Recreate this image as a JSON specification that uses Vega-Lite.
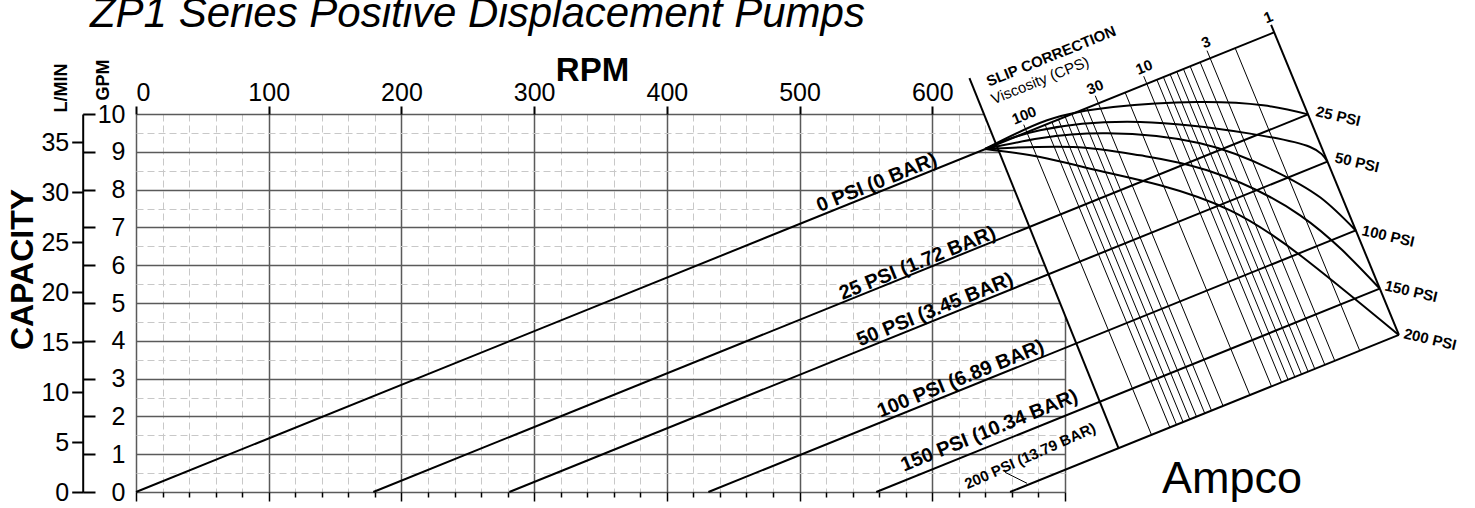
{
  "$schema": "https://vega.github.io/schema/vega-lite/v6.json",
  "autosize": {"type": "none"},
  "width": 929,
  "height": 378,
  "padding": {"left": 136, "top": 114, "right": 410, "bottom": 16},
  "background": "white",
  "config": {"view": {"stroke": null}, "font": "Liberation Sans"},
  "datasets": {
    "heading": [{"label": "ZP1 Series Positive Displacement Pumps", "rpm": -34.7, "gpm": 12.3}],
    "mask": [
      {"rpm": 638.9, "lo": 10, "hi": 10.06},
      {"rpm": 703, "lo": 4.43, "hi": 10.06}
    ],
    "thick": [
      {"id": "0 PSI", "rpm": 0, "gpm": 0, "rpm2": 857.6, "gpm2": 12.16},
      {"id": "25 PSI", "rpm": 178.8, "gpm": 0, "rpm2": 883.1, "gpm2": 9.99},
      {"id": "50 PSI", "rpm": 281.3, "gpm": 0, "rpm2": 897.7, "gpm2": 8.74},
      {"id": "100 PSI", "rpm": 431.3, "gpm": 0, "rpm2": 919.1, "gpm2": 6.92},
      {"id": "150 PSI", "rpm": 557.8, "gpm": 0, "rpm2": 937.1, "gpm2": 5.38},
      {"id": "200 PSI", "rpm": 658.6, "gpm": 0, "rpm2": 951.6, "gpm2": 4.155},
      {"id": "left edge", "rpm": 628.0, "gpm": 10.95, "rpm2": 740.3, "gpm2": 1.159},
      {"id": "right edge", "rpm": 855.3, "gpm": 12.36, "rpm2": 951.6, "gpm2": 4.155}
    ],
    "thin": [
      {"cps": "100", "rpm": 668.9, "gpm": 9.718, "rpm2": 765.2, "gpm2": 1.512},
      {"cps": "90", "rpm": 685.0, "gpm": 9.716, "rpm2": 779.0, "gpm2": 1.708},
      {"cps": "80", "rpm": 690.1, "gpm": 9.788, "rpm2": 784.0, "gpm2": 1.780},
      {"cps": "70", "rpm": 695.0, "gpm": 9.857, "rpm2": 789.0, "gpm2": 1.849},
      {"cps": "60", "rpm": 700.1, "gpm": 9.929, "rpm2": 794.0, "gpm2": 1.921},
      {"cps": "50", "rpm": 705.1, "gpm": 10.001, "rpm2": 799.1, "gpm2": 1.993},
      {"cps": "40", "rpm": 711.4, "gpm": 10.089, "rpm2": 805.3, "gpm2": 2.081},
      {"cps": "35", "rpm": 716.4, "gpm": 10.161, "rpm2": 810.4, "gpm2": 2.153},
      {"cps": "30", "rpm": 722.8, "gpm": 10.483, "rpm2": 819.1, "gpm2": 2.277},
      {"cps": "20", "rpm": 745.3, "gpm": 10.571, "rpm2": 839.3, "gpm2": 2.563},
      {"cps": "10", "rpm": 759.3, "gpm": 11.0, "rpm2": 855.6, "gpm2": 2.794},
      {"cps": "9", "rpm": 769.2, "gpm": 10.909, "rpm2": 863.2, "gpm2": 2.901},
      {"cps": "8", "rpm": 774.1, "gpm": 10.98, "rpm2": 868.1, "gpm2": 2.972},
      {"cps": "7", "rpm": 779.2, "gpm": 11.051, "rpm2": 873.2, "gpm2": 3.043},
      {"cps": "6", "rpm": 784.2, "gpm": 11.123, "rpm2": 878.2, "gpm2": 3.115},
      {"cps": "5", "rpm": 789.2, "gpm": 11.194, "rpm2": 883.2, "gpm2": 3.186},
      {"cps": "4.5", "rpm": 794.3, "gpm": 11.265, "rpm2": 888.2, "gpm2": 3.257},
      {"cps": "4", "rpm": 801.8, "gpm": 11.372, "rpm2": 895.8, "gpm2": 3.364},
      {"cps": "3", "rpm": 807.0, "gpm": 11.677, "rpm2": 903.3, "gpm2": 3.471},
      {"cps": "2", "rpm": 828.2, "gpm": 11.746, "rpm2": 922.1, "gpm2": 3.738},
      {"cps": "leader", "rpm": 654.9, "gpm": 0.52, "rpm2": 671.4, "gpm2": 0.23}
    ],
    "curves": [
      {"psi": "25", "rpm": 639.8, "gpm": 9.074}, {"psi": "25", "rpm": 686.5, "gpm": 9.833}, {"psi": "25", "rpm": 736.3, "gpm": 10.185}, {"psi": "25", "rpm": 799.5, "gpm": 10.317}, {"psi": "25", "rpm": 849.3, "gpm": 10.23}, {"psi": "25", "rpm": 883.1, "gpm": 9.99},
      {"psi": "50", "rpm": 639.8, "gpm": 9.074}, {"psi": "50", "rpm": 681.2, "gpm": 9.569}, {"psi": "50", "rpm": 756.6, "gpm": 9.788}, {"psi": "50", "rpm": 839.5, "gpm": 9.481}, {"psi": "50", "rpm": 884.7, "gpm": 9.127}, {"psi": "50", "rpm": 897.7, "gpm": 8.741},
      {"psi": "100", "rpm": 639.8, "gpm": 9.074}, {"psi": "100", "rpm": 681.2, "gpm": 9.357}, {"psi": "100", "rpm": 731.7, "gpm": 9.489}, {"psi": "100", "rpm": 801.8, "gpm": 9.225}, {"psi": "100", "rpm": 856.8, "gpm": 8.511}, {"psi": "100", "rpm": 892.2, "gpm": 7.796}, {"psi": "100", "rpm": 919.1, "gpm": 6.918},
      {"psi": "150", "rpm": 639.8, "gpm": 9.074}, {"psi": "150", "rpm": 706.1, "gpm": 9.127}, {"psi": "150", "rpm": 756.6, "gpm": 8.907}, {"psi": "150", "rpm": 807.1, "gpm": 8.511}, {"psi": "150", "rpm": 877.2, "gpm": 7.32}, {"psi": "150", "rpm": 937.1, "gpm": 5.384},
      {"psi": "200", "rpm": 639.8, "gpm": 9.074}, {"psi": "200", "rpm": 681.2, "gpm": 8.862}, {"psi": "200", "rpm": 724.2, "gpm": 8.511}, {"psi": "200", "rpm": 771.7, "gpm": 8.114}, {"psi": "200", "rpm": 824.4, "gpm": 7.452}, {"psi": "200", "rpm": 877.2, "gpm": 6.262}, {"psi": "200", "rpm": 951.5, "gpm": 4.153}
    ],
    "lineLabels": [
      {"label": "0 PSI (0 BAR)", "rpm": 558.2, "gpm": 8.18},
      {"label": "25 PSI (1.72 BAR)", "rpm": 588.9, "gpm": 6.05},
      {"label": "50 PSI (3.45 BAR)", "rpm": 602.1, "gpm": 4.82},
      {"label": "100 PSI (6.89 BAR)", "rpm": 621.4, "gpm": 2.99},
      {"label": "150 PSI (10.34 BAR)", "rpm": 643.0, "gpm": 1.62}
    ],
    "smallLabel": [{"label": "200 PSI (13.79 BAR)", "rpm": 673.7, "gpm": 0.955}],
    "cpsLabels": [
      {"label": "100", "rpm": 669.2, "gpm": 9.963},
      {"label": "30", "rpm": 722.7, "gpm": 10.71},
      {"label": "10", "rpm": 759.6, "gpm": 11.24},
      {"label": "3", "rpm": 806.3, "gpm": 11.9},
      {"label": "1", "rpm": 853.1, "gpm": 12.56}
    ],
    "slipTitle": [{"label": "SLIP CORRECTION", "rpm": 689.5, "gpm": 11.53}],
    "slipSub": [{"label": "Viscosity (CPS)", "rpm": 681.2, "gpm": 10.89}],
    "psiLabels": [
      {"label": "25 PSI", "rpm": 905.8, "gpm": 9.94},
      {"label": "50 PSI", "rpm": 920.1, "gpm": 8.72},
      {"label": "100 PSI", "rpm": 943.5, "gpm": 6.77},
      {"label": "150 PSI", "rpm": 960.8, "gpm": 5.31},
      {"label": "200 PSI", "rpm": 975.1, "gpm": 4.04}
    ],
    "brand": [{"label": "Ampco", "rpm": 825.9, "gpm": -0.03}]
  },
  "layer": [
    {
      "data": {"name": "mask"},
      "mark": {"type": "area", "fill": "white", "stroke": null},
      "encoding": {
        "x": {"field": "rpm", "type": "quantitative", "scale": {"domain": [0, 700], "nice": false, "zero": false},
          "axis": {"orient": "bottom", "values": [0,20,40,60,80,100,120,140,160,180,200,220,240,260,280,300,320,340,360,380,400,420,440,460,480,500,520,540,560,580,600,620,640,660,680,700],
            "labels": false, "domain": false, "title": null, "grid": true,
            "gridColor": {"condition": {"test": "datum.value % 100 === 0", "value": "#5a5a5a"}, "value": "#c8c8c8"},
            "gridDash": {"condition": {"test": "datum.value % 100 === 0", "value": []}, "value": [7, 4]},
            "gridWidth": {"condition": {"test": "datum.value % 100 === 0", "value": 1.5}, "value": 1},
            "ticks": true, "tickColor": "black", "tickWidth": 1.5,
            "tickSize": {"condition": {"test": "datum.value % 100 === 0", "value": 9}, "value": 5}}},
        "y": {"field": "lo", "type": "quantitative", "scale": {"domain": [0, 10], "nice": false, "zero": false},
          "axis": {"orient": "left", "values": [0,0.5,1,1.5,2,2.5,3,3.5,4,4.5,5,5.5,6,6.5,7,7.5,8,8.5,9,9.5,10],
            "domain": false, "ticks": false, "tickSize": 0, "grid": true,
            "gridColor": {"condition": {"test": "datum.value % 1 === 0", "value": "#5a5a5a"}, "value": "#c8c8c8"},
            "gridDash": {"condition": {"test": "datum.value % 1 === 0", "value": []}, "value": [7, 4]},
            "gridWidth": {"condition": {"test": "datum.value % 1 === 0", "value": 1.5}, "value": 1},
            "labelExpr": "datum.value % 1 === 0 ? format(datum.value, 'd') : ''",
            "labelFontSize": 25, "labelPadding": 11, "labelColor": "black", "labelFont": "Liberation Sans",
            "title": "GPM", "titleFont": "Liberation Sans", "titleFontSize": 18, "titleFontWeight": "bold", "titleColor": "black",
            "titleAngle": 270, "titleAlign": "left", "titleBaseline": "alphabetic", "titleX": -28, "titleY": -14}},
        "y2": {"field": "hi"}
      }
    },
    {
      "data": {"name": "thick"},
      "mark": {"type": "rule", "color": "black", "strokeWidth": 2},
      "encoding": {
        "x": {"field": "rpm", "type": "quantitative", "scale": {"domain": [0, 700], "nice": false, "zero": false},
          "axis": {"orient": "top", "values": [0,100,200,300,400,500,600], "domain": false, "grid": false,
            "ticks": true, "tickSize": 8, "tickWidth": 2, "tickColor": "black",
            "labelFontSize": 25, "labelPadding": 1, "labelColor": "black", "labelFont": "Liberation Sans",
            "title": "RPM", "titleFont": "Liberation Sans", "titleFontSize": 33, "titleFontWeight": "bold", "titleColor": "black",
            "titleBaseline": "alphabetic", "titleX": 456, "titleY": -34}},
        "y": {"field": "gpm", "type": "quantitative", "scale": {"domain": [0, 10], "nice": false, "zero": false},
          "axis": {"orient": "left", "offset": 53.3, "values": [0, 1.3209, 2.6417, 3.9626, 5.2835, 6.6043, 7.9252, 9.2461],
            "domain": true, "domainColor": "black", "domainWidth": 2, "grid": false,
            "ticks": true, "tickSize": 11, "tickWidth": 2, "tickColor": "black",
            "labelExpr": "format(datum.value * 3.7854, '.0f')",
            "labelFontSize": 25, "labelPadding": 3, "labelColor": "black", "labelFont": "Liberation Sans",
            "title": "L/MIN", "titleFont": "Liberation Sans", "titleFontSize": 18, "titleFontWeight": "bold", "titleColor": "black",
            "titleAngle": 270, "titleAlign": "left", "titleBaseline": "alphabetic", "titleX": -16, "titleY": -2}},
        "x2": {"field": "rpm2"},
        "y2": {"field": "gpm2"}
      }
    },
    {
      "data": {"name": "thin"},
      "mark": {"type": "rule", "color": "black", "strokeWidth": 1},
      "encoding": {
        "x": {"field": "rpm", "type": "quantitative", "axis": null},
        "y": {"field": "gpm", "type": "quantitative",
          "axis": {"orient": "left", "offset": 41, "values": [0,1,2,3,4,5,6,7,8,9,10],
            "domain": false, "grid": false, "labels": false,
            "ticks": true, "tickSize": 12.3, "tickWidth": 2, "tickColor": "black",
            "title": "CAPACITY", "titleFont": "Liberation Sans", "titleFontSize": 32, "titleFontWeight": "bold", "titleColor": "black",
            "titleAngle": 270, "titleAlign": "center", "titleBaseline": "alphabetic", "titleX": -63, "titleY": 155}},
        "x2": {"field": "rpm2"},
        "y2": {"field": "gpm2"}
      }
    },
    {
      "data": {"name": "curves"},
      "mark": {"type": "line", "color": "black", "strokeWidth": 2, "interpolate": "natural"},
      "encoding": {
        "x": {"field": "rpm", "type": "quantitative", "axis": null},
        "y": {"field": "gpm", "type": "quantitative", "axis": null},
        "detail": {"field": "psi"}
      }
    },
    {
      "data": {"name": "heading"},
      "mark": {"type": "text", "font": "Liberation Sans", "fontSize": 42, "fontStyle": "italic", "fontWeight": "normal", "align": "left", "baseline": "alphabetic", "color": "black"},
      "encoding": {
        "x": {"field": "rpm", "type": "quantitative", "axis": null},
        "y": {"field": "gpm", "type": "quantitative", "axis": null},
        "text": {"field": "label"}
      }
    },
    {
      "data": {"name": "lineLabels"},
      "mark": {"type": "text", "font": "Liberation Sans", "fontSize": 20, "fontWeight": "bold", "angle": 338, "align": "center", "baseline": "middle", "color": "black"},
      "encoding": {
        "x": {"field": "rpm", "type": "quantitative", "axis": null},
        "y": {"field": "gpm", "type": "quantitative", "axis": null},
        "text": {"field": "label"}
      }
    },
    {
      "data": {"name": "smallLabel"},
      "mark": {"type": "text", "font": "Liberation Sans", "fontSize": 15, "fontWeight": "bold", "angle": 336, "align": "center", "baseline": "middle", "color": "black"},
      "encoding": {
        "x": {"field": "rpm", "type": "quantitative", "axis": null},
        "y": {"field": "gpm", "type": "quantitative", "axis": null},
        "text": {"field": "label"}
      }
    },
    {
      "data": {"name": "cpsLabels"},
      "mark": {"type": "text", "font": "Liberation Sans", "fontSize": 15, "fontWeight": "bold", "angle": 338, "align": "center", "baseline": "middle", "color": "black"},
      "encoding": {
        "x": {"field": "rpm", "type": "quantitative", "axis": null},
        "y": {"field": "gpm", "type": "quantitative", "axis": null},
        "text": {"field": "label"}
      }
    },
    {
      "data": {"name": "slipTitle"},
      "mark": {"type": "text", "font": "Liberation Sans", "fontSize": 15, "fontWeight": "bold", "angle": 338, "align": "center", "baseline": "middle", "color": "black"},
      "encoding": {
        "x": {"field": "rpm", "type": "quantitative", "axis": null},
        "y": {"field": "gpm", "type": "quantitative", "axis": null},
        "text": {"field": "label"}
      }
    },
    {
      "data": {"name": "slipSub"},
      "mark": {"type": "text", "font": "Liberation Sans", "fontSize": 15, "fontWeight": "normal", "angle": 338, "align": "center", "baseline": "middle", "color": "black"},
      "encoding": {
        "x": {"field": "rpm", "type": "quantitative", "axis": null},
        "y": {"field": "gpm", "type": "quantitative", "axis": null},
        "text": {"field": "label"}
      }
    },
    {
      "data": {"name": "psiLabels"},
      "mark": {"type": "text", "font": "Liberation Sans", "fontSize": 15, "fontWeight": "bold", "angle": 13, "align": "center", "baseline": "middle", "color": "black"},
      "encoding": {
        "x": {"field": "rpm", "type": "quantitative", "axis": null},
        "y": {"field": "gpm", "type": "quantitative", "axis": null},
        "text": {"field": "label"}
      }
    },
    {
      "data": {"name": "brand"},
      "mark": {"type": "text", "font": "Liberation Sans", "fontSize": 45, "fontWeight": "normal", "align": "center", "baseline": "alphabetic", "color": "black"},
      "encoding": {
        "x": {"field": "rpm", "type": "quantitative", "axis": null},
        "y": {"field": "gpm", "type": "quantitative", "axis": null},
        "text": {"field": "label"}
      }
    }
  ],
  "resolve": {"axis": {"x": "independent", "y": "independent"}}
}
